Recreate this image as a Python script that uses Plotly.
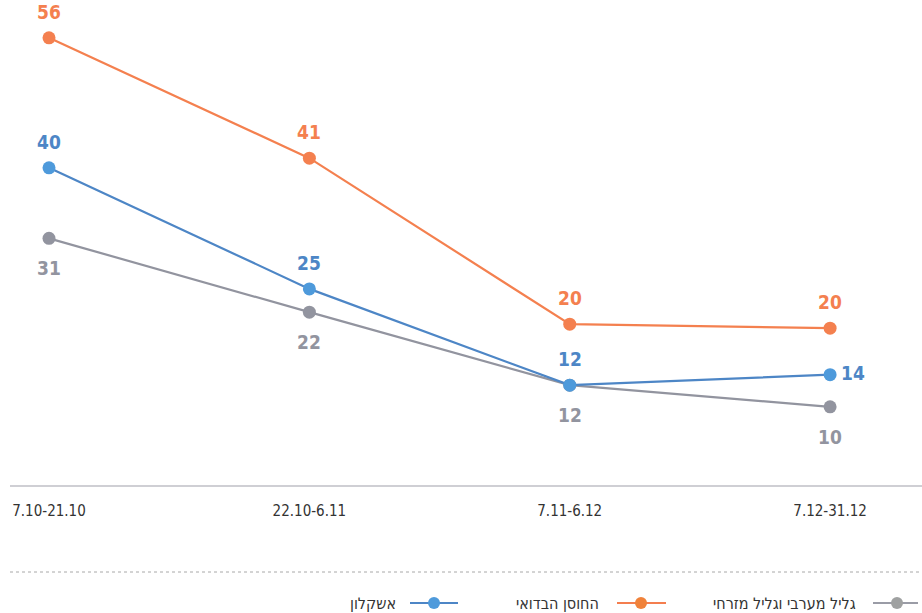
import plotly.graph_objects as go

categories = ["7.10-21.10", "22.10-6.11", "7.11-6.12", "7.12-31.12"]

series_names = ["גליל מערבי וגליל מזרחי", "החוסן הבדואי", "אשקלון"]

gray_values = [31, 21.8, 12.7, 10]
gray_labels = ["31", "22", "12", "10"]

orange_values = [56, 41, 20.3, 19.8]
orange_labels = ["56", "41", "20", "20"]

blue_values = [39.8, 24.7, 12.7, 14]
blue_labels = ["40", "25", "12", "14"]

W, H = 922, 613
ML, MR, MT, MB = 10, 0, 0, 128
PW = W - ML - MR
PH = H - MT - MB

GRAY_LINE = "#92949F"
ORANGE_LINE = "#F4804F"
BLUE_LINE = "#4D86C6"
BLUE_MARK = "#4E9ADB"

LABEL_FONT = "DejaVu Sans Condensed, DejaVu Sans, sans-serif"

fig = go.Figure()

x_idx = list(range(len(categories)))
annotations = []


def add_series(values, labels, line_c, mark_c, placements, name):
    fig.add_trace(go.Scatter(
        x=x_idx, y=values, mode="lines+markers", name=name,
        line=dict(color=line_c, width=2.2),
        marker=dict(color=mark_c, size=13),
        cliponaxis=False, showlegend=False, hoverinfo="skip",
    ))
    for xi, v, lab, pl in zip(x_idx, values, labels, placements):
        xs, ys = {"top": (0, 26), "bottom": (0, -30), "right": (23, 2)}[pl]
        annotations.append(dict(
            x=xi, y=v, xref="x", yref="y", text=lab, showarrow=False,
            xshift=xs, yshift=ys, xanchor="center", yanchor="middle",
            font=dict(family=LABEL_FONT, size=19, color=line_c, weight="bold"),
        ))


add_series(gray_values, gray_labels, GRAY_LINE, GRAY_LINE,
           ["bottom"] * 4, series_names[0])
add_series(blue_values, blue_labels, BLUE_LINE, BLUE_MARK,
           ["top", "top", "top", "right"], series_names[2])
add_series(orange_values, orange_labels, ORANGE_LINE, ORANGE_LINE,
           ["top"] * 4, series_names[1])

fig.update_xaxes(
    range=[-0.1498, 3.353], tickvals=x_idx, ticktext=categories,
    showgrid=False, zeroline=False, showline=True, linecolor="#CFCFD4", linewidth=2,
    ticks="outside", ticklen=11, tickcolor="rgba(0,0,0,0)",
    tickfont=dict(family=LABEL_FONT, size=15, color="#333333"),
)
fig.update_yaxes(range=[0.25, 60.72], visible=False, showgrid=False, zeroline=False)


def px_x(px):
    return (px - ML) / PW


def px_y(py):
    return (MT + PH - py) / PH


shapes = []

# dotted separator
shapes.append(dict(type="line", xref="paper", yref="paper",
                   x0=px_x(10), x1=px_x(922), y0=px_y(572), y1=px_y(572),
                   line=dict(color="#A8A8A8", width=1, dash="dot")))

legend_items = [
    (series_names[0], "#9A9CA6", "#9FA1A1", 873, 918, 897, 858),
    (series_names[1], "#F47E4F", "#F0823A", 617, 666, 641, 601),
    (series_names[2], "#4D86C6", "#4E9ADB", 410, 458, 434, 398),
]
ly = 603
for name, lc, mc, x0, x1, cx, tx in legend_items:
    shapes.append(dict(type="line", xref="paper", yref="paper",
                       x0=px_x(x0), x1=px_x(x1), y0=px_y(ly), y1=px_y(ly),
                       line=dict(color=lc, width=2.2)))
    shapes.append(dict(type="circle", xref="paper", yref="paper",
                       xsizemode="pixel", ysizemode="pixel",
                       xanchor=px_x(cx), yanchor=px_y(ly),
                       x0=-6, x1=6, y0=-6, y1=6,
                       fillcolor=mc, line=dict(width=0)))
    annotations.append(dict(xref="paper", yref="paper", x=px_x(tx), y=px_y(ly),
                            text=name, showarrow=False, xanchor="right", yanchor="middle",
                            font=dict(family=LABEL_FONT, size=16, color="#333333")))

fig.update_layout(
    width=W, height=H,
    margin=dict(l=ML, r=MR, t=MT, b=MB),
    paper_bgcolor="white", plot_bgcolor="white",
    shapes=shapes, annotations=annotations,
    showlegend=False,
)

fig.write_html("out.html", config={"displayModeBar": False},
               post_script="document.body.style.margin='0';")
